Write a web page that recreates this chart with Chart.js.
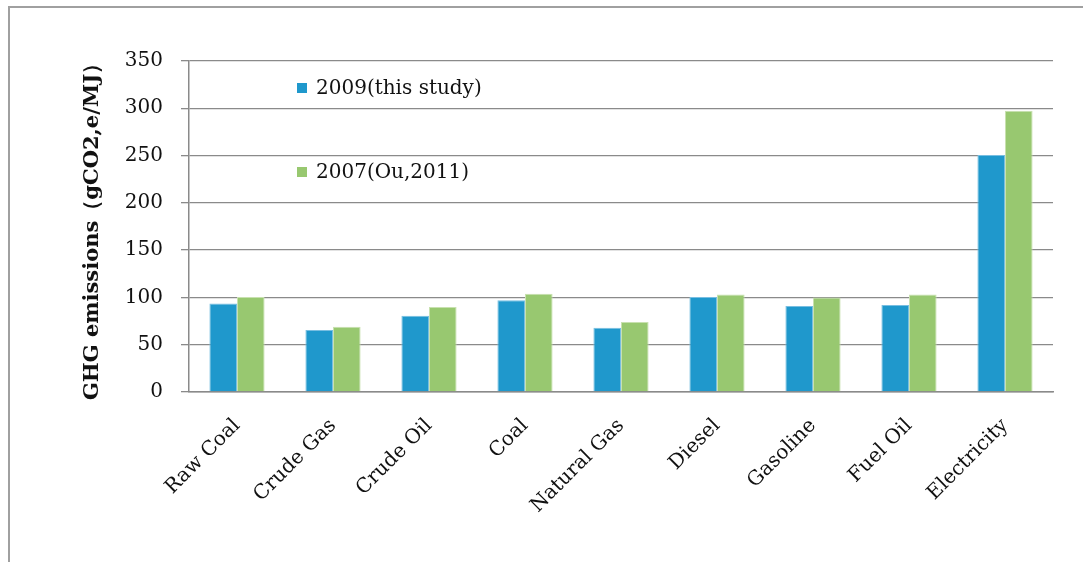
<!DOCTYPE html>
<html>
<head>
<meta charset="utf-8">
<script src="https://cdn.jsdelivr.net/npm/chart.js@4/dist/chart.umd.min.js"></script>
<style>
  html, body { margin: 0; padding: 0; background: #fff; }
  #frame { position: absolute; left: 8px; top: 6px; width: 1075px; height: 556px;
           border-left: 2px solid #a0a0a0; border-top: 2px solid #a0a0a0; }
  #wrap { position: absolute; left: 0; top: 0; width: 1083px; height: 562px; }
</style>
</head>
<body>
<div id="frame"></div>
<div id="wrap"><canvas id="grafica"></canvas></div>
<script>
    // data
    const categorias = ["Raw Coal", "Crude Gas", "Crude Oil", "Coal", "Natural Gas", "Diesel", "Gasoline", "Fuel Oil", "Electricity"];
    const serie2009 = [93.5, 65.5, 80.5, 97, 68, 100.5, 91, 92, 250.5];
    const serie2007 = [100.5, 69, 90, 104, 74, 103, 100, 103, 297.5];
    const etiquetas = ["2009(this study)", "2007(Ou,2011)"];
    const ejeY = "GHG emissions（gCO2,e/MJ）";

    const fuente = "'DejaVu Serif', 'Liberation Serif', serif";

    // legend drawn inside the plot, like the original
    const leyendaDentro = {
        id: "leyendaDentro",
        afterDatasetsDraw(chart) {
            const ctx = chart.ctx;
            const filas = [88, 172];
            ctx.save();
            ctx.font = "20px " + fuente;
            ctx.textBaseline = "middle";
            chart.data.datasets.forEach((ds, i) => {
                ctx.fillStyle = ds.backgroundColor;
                ctx.fillRect(297, filas[i] - 5, 10, 10);
                ctx.fillStyle = "#111";
                ctx.fillText(ds.label, 316, filas[i] + 1);
            });
            ctx.restore();
        }
    };

    let grafica = document.getElementById("grafica").getContext("2d");

    var chart = new Chart(grafica, {
        type: "bar",
        data: {
            labels: categorias,
            datasets: [
                {
                    label: etiquetas[0],
                    backgroundColor: "rgb(31,152,204)",
                    borderColor: "rgb(120,190,225)",
                    borderWidth: 1,
                    data: serie2009
                },
                {
                    label: etiquetas[1],
                    backgroundColor: "rgb(152,200,112)",
                    borderColor: "rgb(200,225,175)",
                    borderWidth: 1,
                    data: serie2007
                }
            ]
        },
        options: {
            responsive: true,
            maintainAspectRatio: false,
            animation: false,
            layout: { padding: { left: 76, top: 61, right: 30, bottom: 0 } },
            plugins: {
                legend: { display: false },
                tooltip: { enabled: false }
            },
            datasets: {
                bar: { categoryPercentage: 0.575, barPercentage: 1.0 }
            },
            scales: {
                x: {
                    grid: { display: false },
                    border: { display: true, color: "#8a8a8a", width: 1.5 },
                    ticks: {
                        color: "#111",
                        font: { family: fuente, size: 20 },
                        maxRotation: 45,
                        minRotation: 45,
                        padding: 14
                    },
                    afterFit(scale) { scale.height = 170; }
                },
                y: {
                    min: 0,
                    max: 350,
                    ticks: {
                        stepSize: 50,
                        color: "#111",
                        font: { family: fuente, size: 20 },
                        padding: 18
                    },
                    grid: { color: "#8a8a8a", lineWidth: 1.3, tickLength: 8, drawTicks: true },
                    border: { display: true, color: "#8a8a8a", width: 1.5 },
                    title: {
                        display: true,
                        text: ejeY,
                        color: "#111",
                        font: { family: fuente, size: 21, weight: "bold" },
                        padding: { top: 4, bottom: 0 }
                    },
                    afterFit(scale) { scale.width = 113; }
                }
            }
        },
        plugins: [leyendaDentro]
    });
</script>
</body>
</html>
